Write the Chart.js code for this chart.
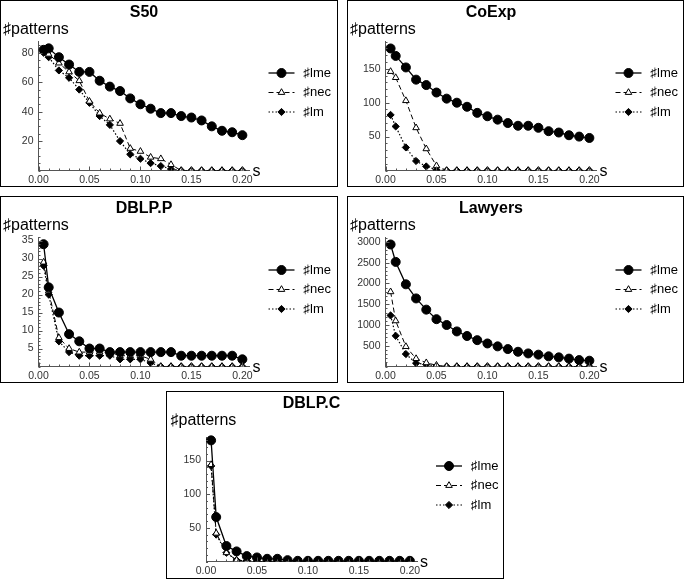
<!DOCTYPE html>
<html>
<head>
<meta charset="utf-8">
<script src="https://cdn.jsdelivr.net/npm/chart.js@4.4.1/dist/chart.umd.min.js"></script>
<style>
    body { margin: 0; background: #fff; width: 685px; height: 579px; position: relative; overflow: hidden; }
    .panel { position: absolute; border: 1px solid #000; box-sizing: border-box; background: #fff; }
    .panel canvas { display: block; }
</style>
</head>
<body>
<script>
// support threshold s (x values shared by every panel)
const sValues = [0.005, 0.01, 0.02, 0.03, 0.04, 0.05, 0.06, 0.07, 0.08, 0.09, 0.1,
                 0.11, 0.12, 0.13, 0.14, 0.15, 0.16, 0.17, 0.18, 0.19, 0.2];
const xTicks = [0, 0.05, 0.1, 0.15, 0.2];
const seriesNames = ['♯lme', '♯nec', '♯lm'];

const s50Lme = [82, 83, 77, 72, 67, 67, 61, 57, 54, 49, 45, 42, 39, 39, 37, 36, 34, 30, 27, 26, 24];
const s50Nec = [81, 79, 73, 67, 61, 47, 39, 35, 32, 15, 13, 9, 8, 4, 0, 0, 0, 0, 0, 0, 0];
const s50Lm = [80, 77, 68, 63, 55, 46, 37, 31, 20, 11, 8, 5, 3, 1, 0, 0, 0, 0, 0, 0, 0];
const s50YTicks = [20, 40, 60, 80];

const coexpLme = [180, 169, 152, 134, 126, 115, 106, 100, 94, 85, 80, 75, 70, 66, 66, 63, 58, 56, 52, 50, 48];
const coexpNec = [146, 137, 103, 63, 32, 7, 0, 0, 0, 0, 0, 0, 0, 0, 0, 0, 0, 0, 0, 0, 0];
const coexpLm = [82, 65, 34, 14, 6, 1, 0, 0, 0, 0, 0, 0, 0, 0, 0, 0, 0, 0, 0, 0, 0];
const coexpYTicks = [50, 100, 150];

const dblpPLme = [34, 22, 15, 9, 7, 5, 5, 4, 4, 4, 4, 4, 4, 4, 3, 3, 3, 3, 3, 3, 2];
const dblpPNec = [29, 21, 8, 5, 4, 4, 4, 4, 3, 3, 3, 2, 0, 0, 0, 0, 0, 0, 0, 0, 0];
const dblpPLm = [28, 20, 7, 4, 3, 3, 3, 3, 2, 2, 2, 1, 0, 0, 0, 0, 0, 0, 0, 0, 0];
const dblpPYTicks = [5, 10, 15, 20, 25, 30, 35];

const lawyersLme = [2940, 2520, 1980, 1640, 1370, 1140, 1000, 845, 735, 635, 555, 485, 420, 355, 315, 285, 245, 220, 190, 155, 140];
const lawyersNec = [1800, 1100, 480, 190, 90, 30, 0, 0, 0, 0, 0, 0, 0, 0, 0, 0, 0, 0, 0, 0, 0];
const lawyersLm = [1230, 740, 300, 80, 50, 10, 0, 0, 0, 0, 0, 0, 0, 0, 0, 0, 0, 0, 0, 0, 0];
const lawyersYTicks = [500, 1000, 1500, 2000, 2500, 3000];

const dblpCLme = [180, 66, 23, 15, 8, 6, 4, 4, 2, 1, 1, 1, 1, 1, 1, 1, 1, 1, 1, 1, 1];
const dblpCNec = [144, 42, 13, 2, 1, 0, 0, 0, 0, 0, 0, 0, 0, 0, 0, 0, 0, 0, 0, 0, 0];
const dblpCLm = [142, 40, 13, 2, 1, 0, 0, 0, 0, 0, 0, 0, 0, 0, 0, 0, 0, 0, 0, 0, 0];
const dblpCYTicks = [50, 100, 150];

const FONT = '"Liberation Sans", Arial, sans-serif';

// line / marker look of the three series (lme, nec, lm)
const seriesStyles = [
    { borderWidth: 1.3, borderDash: [], pointStyle: 'circle', pointRadius: 4.5, fill: '#000' },
    { borderWidth: 1, borderDash: [5, 3], pointStyle: 'triangle', pointRadius: 3.8, fill: '#fff' },
    { borderWidth: 1.2, borderDash: [1.5, 2], pointStyle: 'rectRot', pointRadius: 3.6, fill: '#000' }
];

const panels = [
    { title: 'S50', series: [s50Lme, s50Nec, s50Lm], yTicks: s50YTicks, yMax: 88, yMinor: 5,
      left: 0, top: 0, width: 338, height: 187, padTop: 40, axisW: 37.5, legendDy: 0 },
    { title: 'CoExp', series: [coexpLme, coexpNec, coexpLm], yTicks: coexpYTicks, yMax: 191, yMinor: 10,
      left: 347, top: 0, width: 337, height: 187, padTop: 40, axisW: 37.5, legendDy: 0 },
    { title: 'DBLP.P', series: [dblpPLme, dblpPNec, dblpPLm], yTicks: dblpPYTicks, yMax: 36, yMinor: 1,
      left: 0, top: 196, width: 338, height: 187, padTop: 40, axisW: 37.5, legendDy: 1 },
    { title: 'Lawyers', series: [lawyersLme, lawyersNec, lawyersLm], yTicks: lawyersYTicks, yMax: 3120, yMinor: 100,
      left: 347, top: 196, width: 337, height: 187, padTop: 40, axisW: 37.5, legendDy: 1 },
    { title: 'DBLP.C', series: [dblpCLme, dblpCNec, dblpCLm], yTicks: dblpCYTicks, yMax: 185, yMinor: 10,
      left: 166, top: 391, width: 338, height: 188, padTop: 45, axisW: 39, legendDy: 2 }
];

// title, axis captions, inward ticks and the line+marker legend
const decorPlugin = {
    id: 'decor',
    afterDraw(chart, args, opts) {
        const ctx = chart.ctx;
        const area = chart.chartArea;
        const xs = chart.scales.x, ys = chart.scales.y;
        ctx.save();

        ctx.strokeStyle = '#555';
        ctx.lineWidth = 1;
        ctx.beginPath();
        for (let i = 0; i <= 20; i++) {
            const px = Math.round(xs.getPixelForValue(i * 0.01)) + 0.5;
            const len = i % 5 === 0 ? 4 : 2;
            ctx.moveTo(px, area.bottom);
            ctx.lineTo(px, area.bottom - len);
        }
        for (let v = 0; v <= opts.yMax; v += opts.yMinor) {
            const py = Math.round(ys.getPixelForValue(v)) + 0.5;
            const len = opts.yTicks.includes(v) ? 4 : 2;
            ctx.moveTo(area.left, py);
            ctx.lineTo(area.left + len, py);
        }
        ctx.stroke();

        ctx.fillStyle = '#000';
        ctx.textBaseline = 'middle';
        ctx.textAlign = 'center';
        ctx.font = 'bold 16px ' + FONT;
        ctx.fillText(opts.title, (area.left + area.right) / 2, 11.5);

        ctx.textAlign = 'left';
        ctx.font = '16px ' + FONT;
        ctx.fillText('♯patterns', area.left - 35.5, 29);
        ctx.fillText('s', area.right + 3, area.bottom + 1);

        const legendY = [72, 91.5, 111];
        ctx.font = '13px ' + FONT;
        seriesStyles.forEach((st, i) => {
            const y = legendY[i] + opts.legendDy;
            const x0 = area.right + 19;
            ctx.strokeStyle = '#000';
            ctx.lineWidth = st.borderWidth;
            ctx.setLineDash(st.borderDash);
            ctx.beginPath();
            ctx.moveTo(x0, y);
            ctx.lineTo(x0 + 26, y);
            ctx.stroke();
            ctx.setLineDash([]);
            ctx.fillStyle = st.fill;
            ctx.lineWidth = 1;
            Chart.helpers.drawPoint(ctx, { pointStyle: st.pointStyle, radius: st.pointRadius, rotation: 0, borderWidth: 1 }, x0 + 13, y);
            ctx.fillStyle = '#000';
            ctx.fillText(seriesNames[i], area.right + 54, y);
        });
        ctx.restore();
    }
};

panels.forEach(p => {
    const box = document.createElement('div');
    box.className = 'panel';
    box.style.left = p.left + 'px';
    box.style.top = p.top + 'px';
    box.style.width = p.width + 'px';
    box.style.height = p.height + 'px';
    const canvas = document.createElement('canvas');
    const w = p.width - 2, h = p.height - 2;
    canvas.width = w;
    canvas.height = h;
    canvas.style.width = w + 'px';
    canvas.style.height = h + 'px';
    box.appendChild(canvas);
    document.body.appendChild(box);

    const datasets = p.series.map((vals, i) => {
        const st = seriesStyles[i];
        return {
            label: seriesNames[i],
            data: sValues.map((s, k) => ({ x: s, y: vals[k] })),
            borderColor: '#000',
            borderWidth: st.borderWidth,
            borderDash: st.borderDash,
            pointStyle: st.pointStyle,
            pointRadius: st.pointRadius,
            pointHoverRadius: st.pointRadius,
            pointBackgroundColor: st.fill,
            pointBorderColor: '#000',
            pointBorderWidth: 1,
            tension: 0,
            fill: false,
            clip: { left: 10, top: 10, right: 10, bottom: 0 }
        };
    });

    new Chart(canvas, {
        type: 'line',
        data: { datasets: datasets },
        options: {
            responsive: false,
            animation: false,
            layout: { padding: { top: p.padTop, right: w - p.axisW - 211, left: 0, bottom: 0 } },
            plugins: {
                legend: { display: false },
                tooltip: { enabled: false },
                decor: { title: p.title, yMax: p.yMax, yMinor: p.yMinor, yTicks: p.yTicks, legendDy: p.legendDy }
            },
            scales: {
                x: {
                    type: 'linear', min: 0, max: 0.207,
                    afterFit: sc => { sc.height = h - 169.5; },
                    afterBuildTicks: sc => { sc.ticks = xTicks.map(v => ({ value: v })); },
                    grid: { display: true, drawOnChartArea: false, drawTicks: false },
                    border: { display: true, color: '#555', width: 1 },
                    ticks: { padding: 3.5, color: '#333', font: { family: FONT, size: 10.5 },
                             maxRotation: 0, callback: v => v.toFixed(2) }
                },
                y: {
                    type: 'linear', min: 0, max: p.yMax,
                    afterFit: sc => { sc.width = p.axisW; },
                    afterBuildTicks: sc => { sc.ticks = p.yTicks.map(v => ({ value: v })); },
                    grid: { display: true, drawOnChartArea: false, drawTicks: false },
                    border: { display: true, color: '#555', width: 1 },
                    ticks: { padding: 5, color: '#333', font: { family: FONT, size: 10.5 },
                             callback: v => String(v) }
                }
            }
        },
        plugins: [decorPlugin]
    });
});
</script>
</body>
</html>
